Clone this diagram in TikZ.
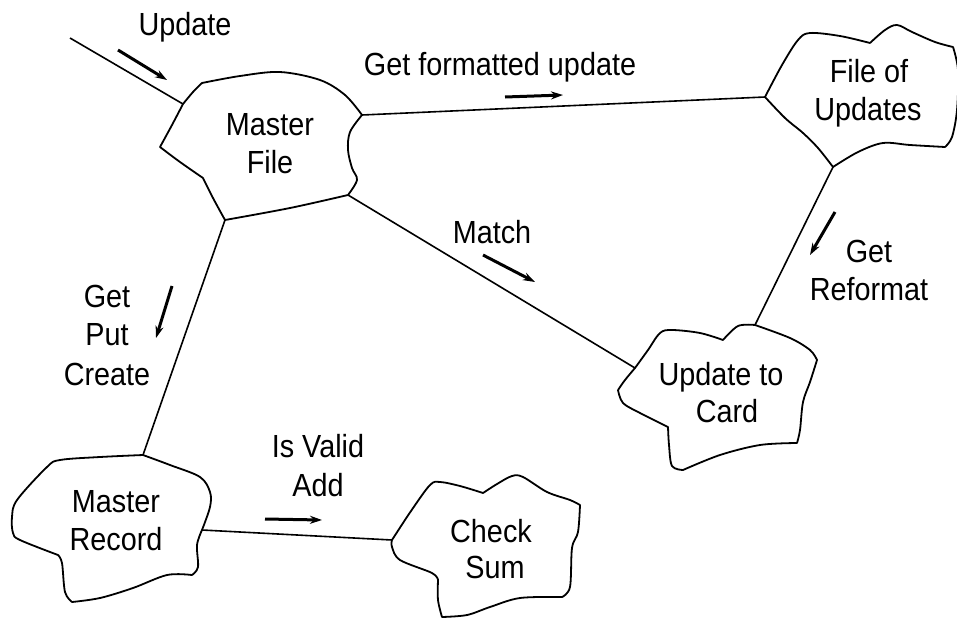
\documentclass[tikz,border=0pt]{standalone}
\usepackage{fontspec}
\setmainfont[FakeStretch=0.9]{Liberation Sans}
\usetikzlibrary{arrows.meta}

\begin{document}
\begin{tikzpicture}[x=1pt,y=-1pt,
  outline/.style={line width=1.8pt, line join=round, line cap=round},
  link/.style={line width=1.6pt},
  flow/.style={line width=3pt, -{Stealth[length=12pt,width=8pt]}},
  lbl/.style={anchor=base, inner sep=0pt, font=\fontsize{32}{38}\selectfont},
  arc/.style={smooth, tension=0.55},
]
\useasboundingbox (0,0) rectangle (957,621);

% ---- cusp points where the links attach
\coordinate (mfA) at (183,104);
\coordinate (mfB) at (362,115);
\coordinate (mfC) at (348,195);
\coordinate (mfD) at (225,220);
\coordinate (fuL) at (765,97);
\coordinate (fuB) at (833,167);
\coordinate (ucL) at (635,368);
\coordinate (ucT) at (755,325);
\coordinate (mrT) at (143,455);
\coordinate (mrR) at (202,530);
\coordinate (csL) at (392,540);
\coordinate (src) at (70,38);

% ---- Master File
\draw[outline]
  plot[arc] coordinates {(183,104) (193,92) (202,83)}
  plot[arc] coordinates {(202,83) (240,76) (280,72) (320,80) (345,95) (362,115)}
  plot[arc] coordinates {(362,115) (350,132) (348,150) (352,168) (357,180) (348,195)}
  plot[arc] coordinates {(348,195) (290,208) (225,220)}
  plot[arc] coordinates {(225,220) (213,198) (203,178)}
  plot[arc] coordinates {(203,178) (180,162) (160,147)}
  plot[arc] coordinates {(160,147) (172,125) (183,104)};

% ---- File of Updates
\draw[outline]
  plot[arc] coordinates {(765,97) (782,65) (798,40) (810,33) (840,36) (870,43)}
  plot[arc] coordinates {(870,43) (885,30) (897,25) (912,32) (935,42) (953,47)}
  plot[arc] coordinates {(953,47) (958,70) (957,110) (952,137) (945,147)}
  plot[arc] coordinates {(945,147) (910,145) (883,143) (858,152) (833,167)}
  plot[arc] coordinates {(833,167) (818,148) (803,133) (785,118) (765,97)};

% ---- Update to Card
\draw[outline]
  plot[arc] coordinates {(635,368) (648,350) (660,333) (672,330) (700,333) (723,340)}
  plot[arc] coordinates {(723,340) (738,326) (755,325)}
  plot[arc] coordinates {(755,325) (790,338) (810,350) (817,360)}
  plot[arc] coordinates {(817,360) (810,382) (803,402) (800,430) (797,443)}
  plot[arc] coordinates {(797,443) (760,445) (720,455) (683,470)}
  plot[arc] coordinates {(683,470) (672,466) (669,445) (668,427)}
  plot[arc] coordinates {(668,427) (640,413) (623,403) (618,390)}
  plot[arc] coordinates {(618,390) (625,380) (635,368)};

% ---- Check Sum
\draw[outline]
  plot[arc] coordinates {(392,540) (411,511) (430,485) (440,482) (460,486) (483,493)}
  plot[arc] coordinates {(483,493) (497,484) (512,476) (523,477) (547,492) (570,500) (580,505)}
  plot[arc] coordinates {(580,505) (578,532) (572,548) (570,587) (562,597)}
  plot[arc] coordinates {(562,597) (520,598) (490,607) (467,615) (442,617)}
  plot[arc] coordinates {(442,617) (438,600) (438,580)}
  plot[arc] coordinates {(438,580) (432,573) (400,560) (392,547) (392,540)};

% ---- Master Record
\draw[outline]
  plot[arc] coordinates {(143,455) (170,465) (200,477) (210,492) (210,507) (202,530)}
  plot[arc] coordinates {(202,530) (197,545) (198,567) (192,575)}
  plot[arc] coordinates {(192,575) (167,575) (133,588) (100,598) (72,602)}
  plot[arc] coordinates {(72,602) (65,592) (62,563) (58,555)}
  plot[arc] coordinates {(58,555) (20,540) (13,533) (12,517) (17,500) (47,467) (60,460) (100,457) (143,455)};

% ---- object names
\node[lbl] (mf1) at (270,135) {Master};
\node[lbl] (mf2) at (270,173) {File};
\node[lbl] (fu1) at (869,82) {File of};
\node[lbl] (fu2) at (868,120) {Updates};
\node[lbl] (uc1) at (721,385) {Update to};
\node[lbl] (uc2) at (727,422) {Card};
\node[lbl] (mr1) at (116,512) {Master};
\node[lbl] (mr2) at (116,550) {Record};
\node[lbl] (cs1) at (491,542) {Check};
\node[lbl] (cs2) at (495,578) {Sum};

% ---- links
\draw[link] (src) -- (mfA);
\draw[link] (mfB) -- (fuL);
\draw[link] (mfC) -- (ucL);
\draw[link] (fuB) -- (ucT);
\draw[link] (mfD) -- (mrT);
\draw[link] (mrR) -- (csL);

% ---- messages and their directions
\node[lbl] (m1) at (185,35) {Update};
\draw[flow] (118,50) -- (167,80);

\node[lbl] (m2) at (500,75) {Get formatted update};
\draw[flow] (505,97) -- (563,95);

\node[lbl] (m3) at (492,243) {Match};
\draw[flow] (483,255) -- (535,282);

\node[lbl] (m4a) at (869,262) {Get};
\node[lbl] (m4b) at (869,300) {Reformat};
\draw[flow] (835,212) -- (810,255);

\node[lbl] (m5a) at (107,307) {Get};
\node[lbl] (m5b) at (107,345) {Put};
\node[lbl] (m5c) at (107,385) {Create};
\draw[flow] (172,286) -- (156,338);

\node[lbl] (m6a) at (318,457) {Is Valid};
\node[lbl] (m6b) at (318,496) {Add};
\draw[flow] (265,519) -- (322,520);
\end{tikzpicture}
\end{document}
